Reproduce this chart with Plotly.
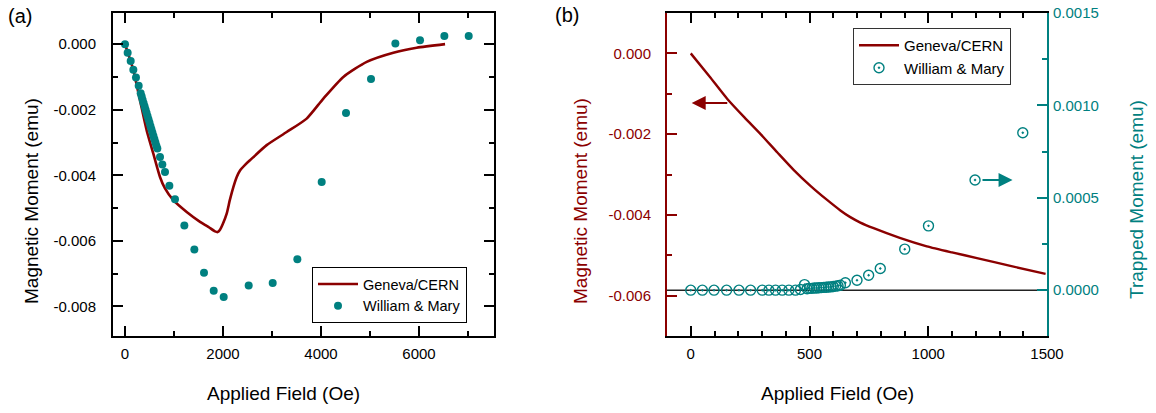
import plotly.graph_objects as go

W, H = 1156, 413
FONT = "Liberation Sans, Arial, sans-serif"
DARKRED = "#8B0000"
TEAL = "#008080"

# ---------------- Panel (a) data ----------------
a_cern_field = [0, 170, 306, 442, 578, 714, 816, 986, 1259, 1531, 1700, 1837, 1890, 1939,
                2000, 2075, 2140, 2211, 2280, 2347, 2450, 2551, 2891, 3299, 3707, 4048,
                4456, 4932, 5476, 5952, 6531]
a_cern_moment = [0.0, -0.00079, -0.00171, -0.00263, -0.00334, -0.00405, -0.00440, -0.00476,
                 -0.00512, -0.00542, -0.00557, -0.00571, -0.00573, -0.00566,
                 -0.00547, -0.00517, -0.00475, -0.00436, -0.00405, -0.00385, -0.00368, -0.00354,
                 -0.00308, -0.00268, -0.00227, -0.00166,
                 -0.00100, -0.00054, -0.00026, -0.00011, 0.00000]

a_wm_field = [0, 54, 116, 170, 224, 279, 320, 340, 360, 380, 400, 420, 440, 460, 480, 500,
              520, 540, 560, 580, 600, 620, 640, 660, 714, 762, 816, 905, 1020, 1211, 1415,
              1612, 1810, 2014, 2524, 3014, 3517, 4014, 4510, 5020, 5517, 6020, 6517, 7014]
a_wm_moment = [0.0, -0.00026, -0.00051, -0.00078, -0.00102, -0.00127, -0.00150, -0.00160,
               -0.00170, -0.00180, -0.00190, -0.00200, -0.00210, -0.00220, -0.00230, -0.00240,
               -0.00250, -0.00260, -0.00270, -0.00280, -0.00290, -0.00300, -0.00310, -0.00318,
               -0.00344, -0.00367, -0.00390, -0.00432, -0.00473, -0.00553, -0.00626,
               -0.00697, -0.00752, -0.00771, -0.00736, -0.00728, -0.00656, -0.00420, -0.00210,
               -0.00106, 0.00002, 0.00012, 0.00025, 0.00025]

a_x_ticks = [0, 2000, 4000, 6000]
a_x_ticktext = ["0", "2000", "4000", "6000"]
a_y_ticks = [0.0, -0.002, -0.004, -0.006, -0.008]
a_y_ticktext = ["0.000", "-0.002", "-0.004", "-0.006", "-0.008"]

# ---------------- Panel (b) data ----------------
b_cern_field = [0, 80, 154, 225, 294, 364, 434, 504, 574, 630, 670, 714, 770, 880, 994,
                1100, 1205, 1350, 1494]
b_cern_moment = [0.0, -0.00058, -0.00113, -0.00158, -0.00200, -0.00245, -0.00289, -0.00328,
                 -0.00363, -0.00389, -0.00405, -0.00419, -0.00433, -0.00457, -0.00478,
                 -0.00493, -0.00507, -0.00527, -0.00546]

b_wm_field = [0, 49, 98, 151, 203, 252, 301, 329, 357, 385, 413, 441, 462, 479, 490, 500,
              510, 520, 530, 540, 550, 560, 570, 580, 590, 600, 610, 620, 630, 651, 700,
              749, 798, 901, 1001, 1197, 1398]
b_wm_trapped = [0.0, 0.0, 0.0, 0.0, 0.0, 0.0, 0.0, 0.0, 0.0, 0.0, 0.0, 0.0, 0.000004,
                0.00003, 0.000008, 0.00001, 0.00001, 0.000012, 0.000012, 0.000013, 0.000014,
                0.000015, 0.000016, 0.000017, 0.000018, 0.00002, 0.000022, 0.000024,
                0.000027, 0.00004, 0.000054, 0.000081, 0.000117, 0.000222, 0.000348,
                0.000596, 0.000852]

b_x_ticks = [0, 500, 1000, 1500]
b_x_ticktext = ["0", "500", "1000", "1500"]
b_y_ticks = [0.0, -0.002, -0.004, -0.006]
b_y_ticktext = ["0.000", "-0.002", "-0.004", "-0.006"]
b_y2_ticks = [0.0, 0.0005, 0.0010, 0.0015]
b_y2_ticktext = ["0.0000", "0.0005", "0.0010", "0.0015"]


def px(x):
    return x / W


def py(y):
    return 1 - y / H


fig = go.Figure()

fig.add_trace(go.Scatter(x=a_cern_field, y=a_cern_moment, mode="lines", name="Geneva/CERN",
                         line=dict(color=DARKRED, width=2.6, shape="spline", smoothing=0.6),
                         xaxis="x", yaxis="y", legend="legend"))
fig.add_trace(go.Scatter(x=a_wm_field, y=a_wm_moment, mode="markers", name="William & Mary",
                         marker=dict(color=TEAL, size=8, symbol="circle"),
                         xaxis="x", yaxis="y", legend="legend"))

fig.add_trace(go.Scatter(x=b_cern_field, y=b_cern_moment, mode="lines", name="Geneva/CERN",
                         line=dict(color=DARKRED, width=2.4, shape="spline", smoothing=0.6),
                         xaxis="x2", yaxis="y2", legend="legend2"))
fig.add_trace(go.Scatter(x=b_wm_field, y=b_wm_trapped, mode="markers", name="William & Mary",
                         marker=dict(color="rgba(0,0,0,0)", size=10, symbol="circle-dot",
                                     line=dict(color=TEAL, width=1.4)),
                         xaxis="x2", yaxis="y3", legend="legend2"))

dom_y = [py(336), py(13)]
tickfont = dict(family=FONT, size=15, color="black")


def minor(dtick, tick0, color):
    return dict(dtick=dtick, tick0=tick0, ticks="inside", ticklen=5, tickwidth=1.5,
                tickcolor=color, showgrid=False)


fig.update_layout(
    width=W, height=H, margin=dict(l=0, r=0, t=0, b=0, autoexpand=False),
    paper_bgcolor="white", plot_bgcolor="white",
    font=dict(family=FONT, size=15, color="black"),
    xaxis=dict(domain=[px(113), px(494)], range=[-245, 7530], anchor="y", automargin=False,
               tickmode="array", tickvals=a_x_ticks, ticktext=a_x_ticktext,
               minor=minor(1000, 0, "black"), ticklabelstandoff=3,
               showline=True, linewidth=2, linecolor="black", ticks="inside", ticklen=10,
               tickwidth=1.5, tickcolor="black", mirror="ticks", showgrid=False,
               zeroline=False, tickfont=tickfont),
    yaxis=dict(domain=dom_y, range=[-0.0089, 0.00095], anchor="x", automargin=False,
               tickmode="array", tickvals=a_y_ticks, ticktext=a_y_ticktext,
               minor=minor(0.001, 0, "black"), ticklabelstandoff=12,
               showline=True, linewidth=2, linecolor="black", ticks="inside", ticklen=10,
               tickwidth=1.5, tickcolor="black", mirror="ticks", showgrid=False,
               zeroline=False, tickfont=tickfont),
    xaxis2=dict(domain=[px(667), px(1047)], range=[-100, 1500], anchor="y2", automargin=False,
                tickmode="array", tickvals=b_x_ticks, ticktext=b_x_ticktext,
                minor=minor(100, 0, "black"), ticklabelstandoff=3,
                showline=True, linewidth=2, linecolor="black", ticks="inside", ticklen=10,
                tickwidth=1.5, tickcolor="black", mirror="ticks", showgrid=False,
                zeroline=False, tickfont=tickfont),
    yaxis2=dict(domain=dom_y, range=[-0.007, 0.001], anchor="x2", automargin=False,
                tickmode="array", tickvals=b_y_ticks, ticktext=b_y_ticktext,
                minor=minor(0.001, 0, DARKRED), ticklabelstandoff=11,
                showline=True, linewidth=2, linecolor=DARKRED, ticks="inside", ticklen=10,
                tickwidth=1.5, tickcolor=DARKRED, showgrid=False,
                zeroline=False, tickfont=dict(family=FONT, size=15, color=DARKRED)),
    yaxis3=dict(range=[-0.000248, 0.0015], overlaying="y2", side="right", anchor="x2",
                automargin=False,
                tickmode="array", tickvals=b_y2_ticks, ticktext=b_y2_ticktext,
                minor=minor(0.00025, 0, TEAL), ticklabelstandoff=1,
                showline=True, linewidth=2, linecolor=TEAL, ticks="inside", ticklen=10,
                tickwidth=1.5, tickcolor=TEAL, showgrid=False, zeroline=False,
                tickfont=dict(family=FONT, size=15, color=TEAL)),
    legend=dict(x=px(312), y=py(267), xanchor="left", yanchor="top",
                bordercolor="black", borderwidth=1, bgcolor="white",
                font=dict(family=FONT, size=14.5, color="black"), itemwidth=40,
                tracegroupgap=0),
    legend2=dict(x=px(853), y=py(28), xanchor="left", yanchor="top",
                 bordercolor="#333", borderwidth=1, bgcolor="white",
                 font=dict(family=FONT, size=15, color="black"), itemwidth=40,
                 tracegroupgap=0),
    showlegend=True,
)

# zero line for trapped moment
fig.add_shape(type="line", xref="x2 domain", x0=0, x1=1, yref="y3", y0=0, y1=0,
              line=dict(color="#222", width=1.5), layer="below")

annots = [
    dict(text="(a)", x=px(20), y=py(16), font=dict(size=20)),
    dict(text="(b)", x=px(567), y=py(15), font=dict(size=20)),
    dict(text="Applied Field (Oe)", x=px(283), y=py(393), font=dict(size=19)),
    dict(text="Applied Field (Oe)", x=px(837), y=py(393), font=dict(size=19)),
    dict(text="Magnetic Moment (emu)", x=px(31), y=py(201), textangle=-90,
         font=dict(size=19)),
    dict(text="Magnetic Moment (emu)", x=px(580), y=py(201), textangle=-90,
         font=dict(size=19, color=DARKRED)),
    dict(text="Trapped Moment (emu)", x=px(1137), y=py(200), textangle=-90,
         font=dict(size=19, color=TEAL)),
]
for an in annots:
    f = dict(family=FONT, color="black")
    f.update(an.pop("font"))
    fig.add_annotation(xref="paper", yref="paper", showarrow=False, xanchor="center",
                       yanchor="middle", font=f, **an)

# arrows
fig.add_annotation(xref="x2", yref="y2", x=4, y=-0.00123, axref="x2", ayref="y2",
                   ax=160, ay=-0.00123, showarrow=True, arrowhead=2, arrowsize=1.4,
                   arrowwidth=2, arrowcolor=DARKRED, text="")
fig.add_annotation(xref="x2", yref="y3", x=1355, y=0.000596, axref="x2", ayref="y3",
                   ax=1222, ay=0.000596, showarrow=True, arrowhead=2, arrowsize=1.4,
                   arrowwidth=2, arrowcolor=TEAL, text="")

fig.write_html("out.html")
